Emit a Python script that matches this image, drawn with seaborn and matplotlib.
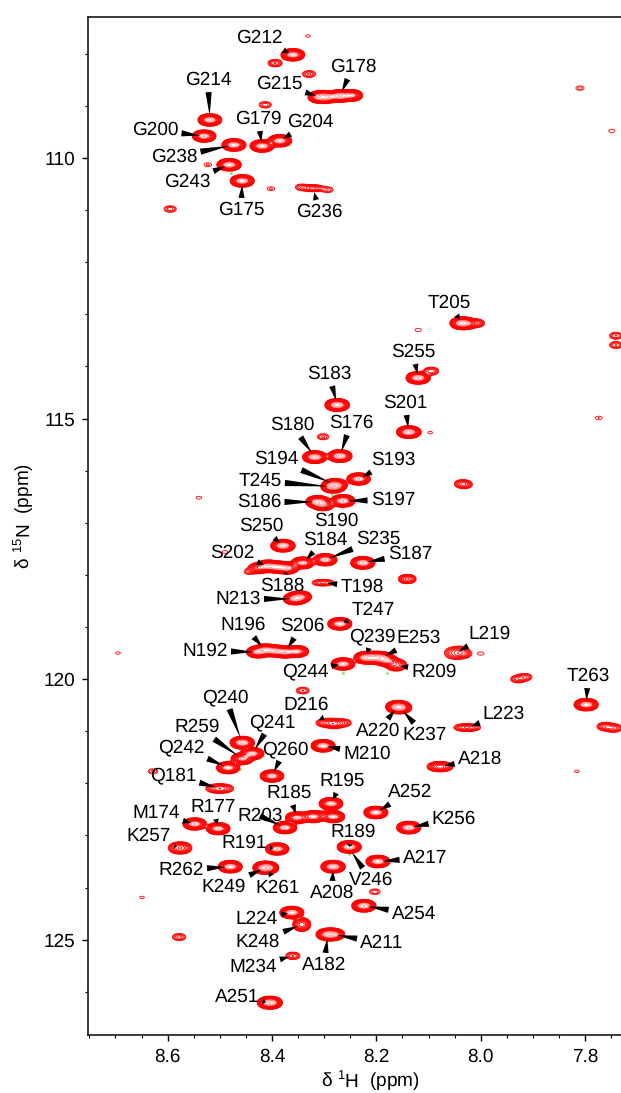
import numpy as np
import pandas as pd
import matplotlib
matplotlib.use('Agg')
import matplotlib.pyplot as plt
import seaborn as sns
from matplotlib.transforms import Affine2D

# Assigned cross peaks: 1H shift, 15N shift, relative height
peak_labels = ['G212', 'G215', 'G178', 'G214', 'G200', 'G238', 'G179', 'G204', 'G243', 'G175', 'G236',
               'T205', 'S255', 'S183', 'S201', 'S180', 'S176', 'S194', 'S193', 'T245', 'S186', 'S197',
               'S190', 'S250', 'S184', 'S235', 'S202', 'S188', 'S187', 'T198', 'N213', 'T247', 'Q239',
               'E253', 'R209', 'N196', 'S206', 'N192', 'Q244', 'L219', 'T263', 'L223', 'A220', 'K237',
               'D216', 'M210', 'A218', 'Q240', 'R259', 'Q241', 'Q242', 'Q260', 'Q181', 'R195', 'R185',
               'R203', 'M174', 'R177', 'K257', 'R191', 'R189', 'V246', 'R262', 'K249', 'K261', 'A208',
               'A252', 'K256', 'A217', 'A254', 'L224', 'K248', 'A182', 'A211', 'M234', 'A251']
peak_h = [8.360, 8.308, 8.270, 8.519, 8.530, 8.473, 8.419, 8.385, 8.482, 8.457, 8.321,
          8.036, 8.120, 8.275, 8.138, 8.318, 8.270, 8.279, 8.234, 8.283, 8.312, 8.264,
          8.302, 8.379, 8.341, 8.298, 8.408, 8.371, 8.226, 8.302, 8.356, 8.270, 8.220,
          8.190, 8.162, 8.413, 8.375, 8.427, 8.264, 8.049, 7.798, 8.026, 8.159, 8.155,
          8.293, 8.302, 8.078, 8.457, 8.457, 8.438, 8.484, 8.400, 8.500, 8.287, 8.352,
          8.375, 8.548, 8.503, 8.576, 8.390, 8.252, 8.252, 8.480, 8.413, 8.410, 8.283,
          8.201, 8.138, 8.197, 8.224, 8.362, 8.343, 8.293, 8.283, 8.360, 8.404]
peak_n = [108.02, 108.83, 108.81, 109.27, 109.58, 109.75, 109.77, 109.67, 110.13, 110.44, 110.58,
          113.17, 114.22, 114.74, 115.26, 115.74, 115.72, 116.27, 116.16, 116.31, 116.60, 116.58,
          116.66, 117.44, 117.77, 117.71, 117.83, 117.87, 117.77, 118.15, 118.46, 118.94, 119.59,
          119.59, 119.73, 119.44, 119.48, 119.48, 119.71, 119.50, 120.49, 120.93, 120.53, 120.55,
          120.84, 121.28, 121.68, 121.22, 121.53, 121.43, 121.70, 121.86, 122.10, 122.39, 122.66,
          122.85, 122.78, 122.87, 123.24, 123.26, 123.22, 123.25, 123.60, 123.62, 123.62, 123.60,
          122.56, 122.85, 123.50, 124.35, 124.48, 124.71, 124.90, 124.90, 125.31, 126.21]
peak_amp = [28, 30, 32, 28, 26, 30, 30, 28, 30, 30, 5,
            32, 32, 36, 34, 34, 34, 26, 26, 30, 34, 32,
            16, 34, 22, 26, 22, 24, 32, 4, 24, 30, 30,
            24, 8, 22, 24, 22, 28, 4, 30, 6, 28, 20,
            5, 30, 10, 34, 18, 26, 24, 26, 7, 28, 22,
            26, 26, 26, 9, 26, 30, 1, 30, 30, 20, 34,
            30, 32, 30, 32, 30, 10, 26, 24, 3, 40]

# Unassigned signals, shoulders and weak spots
other_h = [8.394, 8.329, 8.413, 8.595, 8.402, 8.523, 8.344, 8.293, 8.331, 7.810, 7.749, 7.741, 7.741,
           8.095, 7.774, 8.120, 8.302, 8.097, 8.540, 8.036, 8.030, 8.141, 8.444, 8.490, 7.929, 7.915, 8.341,
           7.762, 7.745, 8.628, 7.816, 8.203, 8.578, 8.649, 8.695, 8.027, 8.008,
           8.295, 8.248, 8.321, 8.283, 8.390, 8.425, 8.352, 8.205, 8.180, 8.395, 8.036, 8.033, 8.000,
           8.301, 8.346, 8.280, 8.262]
other_n = [108.18, 108.39, 108.98, 110.98, 110.59, 110.13, 110.56, 110.61, 107.66, 108.66, 109.48, 113.41, 113.59,
           114.09, 114.99, 113.30, 115.35, 115.27, 116.52, 116.25, 116.27, 118.08, 117.94, 117.56, 120.00, 119.96, 120.22,
           120.91, 120.94, 121.77, 121.77, 124.08, 124.95, 124.19, 119.50, 113.18, 113.17,
           108.83, 108.80, 122.64, 122.64, 117.85, 117.87, 119.47, 119.59, 119.65, 119.46, 119.44, 119.52, 119.51,
           122.58, 118.42, 120.86, 120.84]
other_amp = [3, 2.5, 2.2, 2.2, 1.3, 1.3, 2, 1.8, 1.1, 1.4, 1.2, 2.4, 2.4,
             3.5, 1.25, 1.2, 2, 1.1, 1.15, 3, 2.4, 6, 1.6, 1.15, 3, 2.6, 2.4,
             4, 4, 1.6, 1.1, 1.8, 2.6, 1.1, 1.1, 10, 4,
             26, 20, 24, 24, 24, 12, 22, 30, 18, 22, 1.5, 3, 1.2,
             1, 20, 5, 3]

# Negative signals that stick out as green dots
green_h = [8.478, 8.285, 8.264, 8.180, 7.822, 8.461, 8.252]
green_n = [110.29, 116.46, 119.88, 119.88, 120.49, 121.72, 123.35]

# Broadened signals, linewidth factors in (1H, 15N)
broad_peaks = {'L219': (1.35, 1.5), 'G236': (1.2, 0.8), 'T198': (1.4, 0.8), 'Q181': (1.5, 1.0), 'A218': (1.3, 1.0),
               'L223': (1.5, 0.85), 'K257': (1.2, 1.2), 'R209': (1.1, 1.2), 'K248': (0.9, 1.3), 'D216': (1.4, 1.0)}

x_ticks = [8.6, 8.4, 8.2, 8.0, 7.8]
y_ticks = [110, 115, 120, 125]

# Where each label sits on the page (pixels, origin top left)
label_pos = {'G212': (259, 38), 'G215': (279, 84), 'G178': (353, 67), 'G214': (208, 80), 'G200': (155, 130),
             'G238': (174, 157), 'G179': (258, 119), 'G204': (310, 122), 'G243': (187, 182), 'G175': (241, 210),
             'G236': (319, 212), 'T205': (449, 303), 'S255': (413, 352), 'S183': (329, 374), 'S201': (405, 403),
             'S180': (292, 425), 'S176': (351, 423), 'S194': (276, 459), 'S193': (393, 460), 'T245': (260, 481),
             'S186': (259, 502), 'S197': (393, 500), 'S190': (336, 521), 'S250': (261, 526), 'S184': (325, 540),
             'S235': (378, 539), 'S202': (232, 553), 'S188': (282, 586), 'S187': (410, 554), 'T198': (362, 587),
             'N213': (238, 599), 'T247': (373, 610), 'Q239': (372, 636), 'E253': (419, 638), 'R209': (434, 672),
             'N196': (243, 625), 'S206': (302, 626), 'N192': (205, 651), 'Q244': (305, 671), 'L219': (490, 634),
             'T263': (588, 676), 'L223': (504, 714), 'A220': (378, 731), 'K237': (425, 735), 'D216': (306, 705),
             'M210': (367, 754), 'A218': (480, 759), 'Q240': (225, 697), 'R259': (197, 727), 'Q241': (272, 722),
             'Q242': (181, 747), 'Q260': (285, 749), 'Q181': (173, 775), 'R195': (342, 781), 'R185': (289, 793),
             'R203': (260, 816), 'M174': (156, 813), 'R177': (213, 807), 'K257': (149, 836), 'R191': (244, 843),
             'R189': (353, 832), 'V246': (371, 880), 'R262': (181, 870), 'K249': (224, 887), 'K261': (278, 888),
             'A208': (332, 893), 'A252': (410, 792), 'K256': (454, 819), 'A217': (425, 858), 'A254': (414, 914),
             'L224': (257, 919), 'K248': (258, 942), 'A182': (324, 965), 'A211': (382, 943), 'M234': (253, 967),
             'A251': (237, 997)}

WIDTH, HEIGHT = 621, 1093
SIGMA_H = 0.0095
SIGMA_N = 0.050
SHAPE = 2.15


def set_style():
    sns.set_theme(style='ticks')
    plt.rcParams['font.family'] = ['Liberation Sans', 'DejaVu Sans']
    plt.rcParams['mathtext.fontset'] = 'custom'
    plt.rcParams['mathtext.rm'] = 'Liberation Sans'
    plt.rcParams['mathtext.default'] = 'regular'
    plt.rcParams['text.hinting'] = 'no_hinting'
    plt.rcParams['text.hinting_factor'] = 1
    plt.rcParams['text.color'] = 'black'
    plt.rcParams['axes.labelcolor'] = 'black'
    plt.rcParams['xtick.color'] = 'black'
    plt.rcParams['ytick.color'] = 'black'


def build_spectrum(h_axis, n_axis):
    # Sum of the cross peaks on a regular grid, each peak is a product of two line shapes
    spectrum = np.zeros((len(n_axis), len(h_axis)))
    labels = peak_labels + [None] * len(other_h)
    for label, h, n, amp in zip(labels, peak_h + other_h, peak_n + other_n, peak_amp + other_amp):
        fh, fn = broad_peaks.get(label, (1.0, 1.0))
        line_h = np.exp(-0.5 * np.abs((h_axis - h) / (SIGMA_H * fh)) ** SHAPE)
        line_n = np.exp(-0.5 * np.abs((n_axis - n) / (SIGMA_N * fn)) ** SHAPE)
        spectrum += amp * np.outer(line_n, line_h)
    return spectrum


def plot_spectrum():
    set_style()
    fig = plt.figure(figsize=(WIDTH / 100, HEIGHT / 100), dpi=100)
    ax = fig.add_axes([88 / WIDTH, 1 - 1034.5 / HEIGHT, 533 / WIDTH, 1017.5 / HEIGHT])

    h_axis = np.linspace(7.70, 8.76, 1400)
    n_axis = np.linspace(107.2, 126.9, 2600)
    levels = np.geomspace(1.0, 60, 20)
    # outer contours heavier so the rim closes up, inner ones thin and pale
    widths = [0.6] * 13 + [0.3] * 7
    colors = ['#ff0000'] * 14 + ['#ff4a4a'] * 6
    ax.contour(h_axis, n_axis, build_spectrum(h_axis, n_axis), levels=levels, colors=colors, linewidths=widths)

    greens = pd.DataFrame({'h': green_h, 'n': green_n})
    sns.scatterplot(data=greens, x='h', y='n', ax=ax, color='#66ee66', s=4, marker='o', linewidth=0, legend=False)

    page = Affine2D().scale(1, -1).translate(0, HEIGHT)
    for label, h, n in zip(peak_labels, peak_h, peak_n):
        ax.annotate(label, xy=(h, n), xytext=label_pos[label], textcoords=page, fontsize=13.5, ha='center', va='center',
                    color='black', zorder=5,
                    arrowprops=dict(arrowstyle='wedge,tail_width=0.33,shrink_factor=0.5', color='black', lw=0,
                                    shrinkA=0, shrinkB=3))

    ax.set_xlim(8.7525, 7.7314)
    ax.set_ylim(126.82, 107.295)
    ax.set_xticks(x_ticks)
    ax.set_xticklabels([f'{t:.1f}' for t in x_ticks])
    ax.set_yticks(y_ticks)
    ax.set_xticks(np.arange(7.75, 8.76, 0.05), minor=True)
    ax.set_yticks(np.arange(108, 127), minor=True)
    ax.tick_params(which='major', labelsize=13.5, length=4.5, width=1, pad=5)
    ax.tick_params(which='minor', length=2.5, width=0.8)
    ax.set_xlabel('δ $^{1}$H  (ppm)', fontsize=13.5)
    ax.set_ylabel('δ $^{15}$N  (ppm)', fontsize=13.5)
    ax.yaxis.set_label_coords(-0.097, 0.51)
    ax.xaxis.set_label_coords(0.53, -0.034)
    for spine in ax.spines.values():
        spine.set_linewidth(1.2)
        spine.set_color('#1a1a1a')
    sns.despine(ax=ax, top=False, right=True)

    fig.savefig('out.png', dpi=100)
    plt.close(fig)


if __name__ == "__main__":
    plot_spectrum()
